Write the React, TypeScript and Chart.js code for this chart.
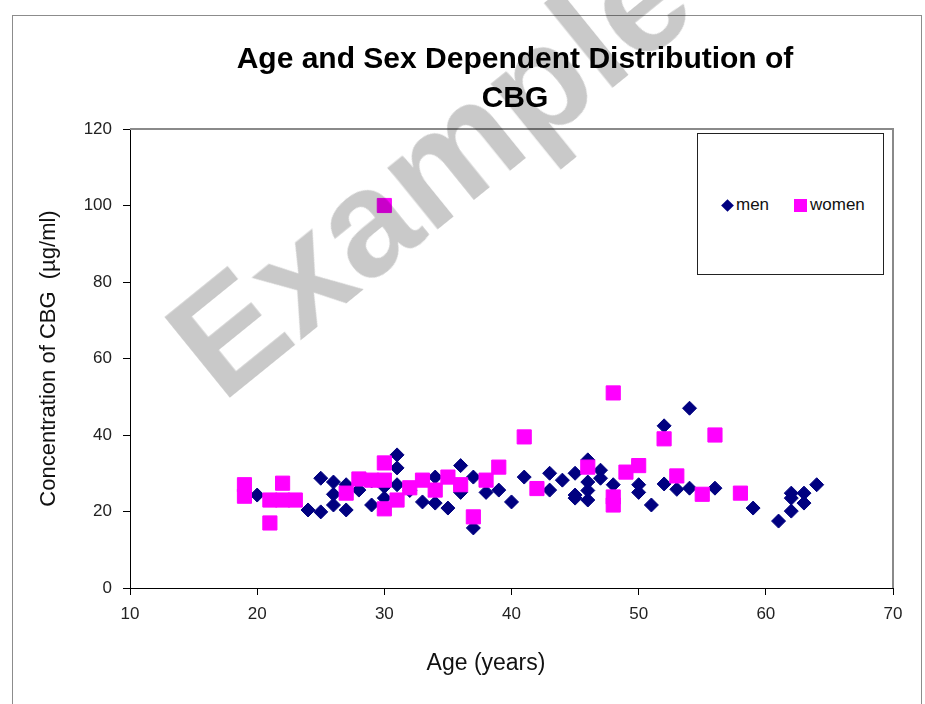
import React, { useEffect, useRef } from 'react';
import { Chart, registerables } from 'chart.js';

Chart.register(...registerables);

const menAges = [20, 24, 25, 25, 26, 26, 26, 27, 27, 28, 29, 29, 30, 30, 31, 31, 31, 32, 33, 34, 34, 35, 36, 36, 37, 37, 38, 39, 40, 41, 43, 43, 44, 45, 45, 45, 46, 46, 46, 46, 47, 47, 48, 50, 50, 51, 52, 52, 53, 54, 54, 56, 59, 61, 62, 62, 62, 63, 63, 64];
const menCBG = [24.3, 20.4, 28.7, 19.9, 27.7, 24.5, 21.7, 27, 20.4, 25.6, 28, 21.7, 23.5, 26.5, 34.8, 31.4, 27, 25.5, 22.5, 29, 22.2, 20.9, 32, 25, 29, 15.7, 25, 25.6, 22.5, 29, 30, 25.6, 28.2, 30, 24.3, 23.5, 33.5, 27.7, 25.5, 23, 30.8, 28.7, 27, 27, 25, 21.7, 42.4, 27.2, 25.8, 47, 26.1, 26.1, 20.9, 17.5, 24.8, 23.5, 20.1, 24.8, 22.2, 27];

const womenAges = [19, 19, 21, 21, 22, 22, 23, 27, 28, 29, 30, 30, 30, 30, 31, 32, 33, 34, 35, 36, 37, 38, 39, 41, 42, 46, 48, 48, 48, 49, 50, 52, 53, 55, 56, 58];
const womenCBG = [27, 24, 23, 17, 27.4, 23, 23, 24.8, 28.5, 28.2, 100, 32.7, 28.2, 20.7, 23, 26.2, 28.2, 25.6, 29, 27, 18.6, 28.2, 31.6, 39.5, 26, 31.6, 51, 23.8, 21.7, 30.3, 32, 39, 29.3, 24.5, 40, 24.8];

const xTickValues = [10, 20, 30, 40, 50, 60, 70];
const yTickValues = [0, 20, 40, 60, 80, 100, 120];

const titleLines = ['Age and Sex Dependent Distribution of', 'CBG'];
const xTitle = 'Age (years)';
const yTitle = 'Concentration of CBG  (\u00b5g/ml)';
const menLabel = 'men';
const womenLabel = 'women';
const watermark = 'Example';

const SANS = "'Liberation Sans', Arial, sans-serif";

const plotBorder = {
  id: 'plotBorder',
  beforeDatasetsDraw(chart: any) {
    const { ctx, chartArea } = chart;
    const { left, top, right, bottom } = chartArea;
    ctx.save();
    ctx.strokeStyle = '#8a8a8a';
    ctx.lineWidth = 2;
    ctx.beginPath();
    ctx.moveTo(left, top);
    ctx.lineTo(right, top);
    ctx.lineTo(right, bottom);
    ctx.stroke();
    ctx.restore();
  },
};

export default function App() {
  const canvasRef = useRef<HTMLCanvasElement | null>(null);

  useEffect(() => {
    if (!canvasRef.current) return;
    const chart = new Chart(canvasRef.current, {
      type: 'scatter',
      data: {
        datasets: [
          {
            label: menLabel,
            data: menAges.map((a, i) => ({ x: a, y: menCBG[i] })),
            pointStyle: 'rectRot',
            pointRadius: 7,
            backgroundColor: '#000080',
            borderColor: '#000080',
            borderWidth: 1,
            order: 1,
          },
          {
            label: womenLabel,
            data: womenAges.map((a, i) => ({ x: a, y: womenCBG[i] })),
            pointStyle: 'rect',
            pointRadius: 10,
            backgroundColor: '#FF00FF',
            borderColor: '#FF00FF',
            borderWidth: 1,
            order: 0,
          },
        ],
      },
      options: {
        animation: false,
        responsive: false,
        maintainAspectRatio: false,
        layout: { padding: { top: 129, right: 32, bottom: 0, left: 0 } },
        plugins: {
          legend: { display: false },
          tooltip: { enabled: false },
          title: { display: false },
        },
        scales: {
          x: {
            type: 'linear',
            min: 10,
            max: 70,
            afterBuildTicks: (s: any) => {
              s.ticks = xTickValues.map((v) => ({ value: v }));
            },
            afterFit: (s: any) => {
              s.height = 116;
            },
            ticks: {
              font: { family: SANS, size: 17 },
              color: '#222',
              padding: 9,
            },
            grid: { drawOnChartArea: false, drawTicks: true, tickLength: 7, color: '#000' },
            border: { color: '#000', width: 1 },
            title: { display: false },
          },
          y: {
            type: 'linear',
            min: 0,
            max: 120,
            afterBuildTicks: (s: any) => {
              s.ticks = yTickValues.map((v) => ({ value: v }));
            },
            afterFit: (s: any) => {
              s.width = 130;
            },
            ticks: {
              font: { family: SANS, size: 17 },
              color: '#222',
              padding: 11,
            },
            grid: { drawOnChartArea: false, drawTicks: true, tickLength: 7, color: '#000' },
            border: { color: '#000', width: 1 },
            title: {
              display: true,
              text: yTitle,
              font: { family: SANS, size: 22 },
              color: '#111',
              padding: { top: 36, bottom: 0 },
            },
          },
        },
      },
      plugins: [plotBorder],
    });
    return () => chart.destroy();
  }, []);

  return (
    <div
      style={{
        position: 'fixed',
        left: 0,
        top: 0,
        width: 925,
        height: 704,
        overflow: 'hidden',
        background: '#fff',
      }}
    >
      <div
        style={{
          position: 'absolute',
          left: 12,
          top: 15,
          width: 908,
          height: 800,
          border: '1px solid #8c8c8c',
        }}
      />
      <canvas ref={canvasRef} width={925} height={704} style={{ position: 'absolute', left: 0, top: 0 }} />
      <div
        style={{
          position: 'absolute',
          left: 215,
          top: 38,
          width: 600,
          textAlign: 'center',
          fontFamily: SANS,
          fontWeight: 'bold',
          fontSize: 30,
          lineHeight: '39px',
          color: '#000',
        }}
      >
        {titleLines.map((t, i) => (
          <div key={i}>{t}</div>
        ))}
      </div>
      <div
        style={{
          position: 'absolute',
          left: 386,
          top: 648,
          width: 200,
          textAlign: 'center',
          fontFamily: SANS,
          fontSize: 23,
          lineHeight: '28px',
          color: '#111',
        }}
      >
        {xTitle}
      </div>
      <div
        style={{
          position: 'absolute',
          left: 697,
          top: 133,
          width: 185,
          height: 140,
          border: '1px solid #222',
          background: '#fff',
          fontFamily: SANS,
          fontSize: 17,
          color: '#111',
        }}
      >
        <div
          style={{
            position: 'absolute',
            left: 25,
            top: 67,
            width: 9,
            height: 9,
            background: '#000080',
            transform: 'rotate(45deg)',
          }}
        />
        <div style={{ position: 'absolute', left: 38, top: 61, lineHeight: '20px' }}>{menLabel}</div>
        <div
          style={{
            position: 'absolute',
            left: 96,
            top: 65,
            width: 13,
            height: 13,
            background: '#FF00FF',
          }}
        />
        <div style={{ position: 'absolute', left: 112, top: 61, lineHeight: '20px' }}>{womenLabel}</div>
      </div>
      <svg
        width={925}
        height={704}
        style={{ position: 'absolute', left: 0, top: 0, pointerEvents: 'none' }}
      >
        <text
          x={222}
          y={404}
          transform="rotate(-39 222 404)"
          fontFamily={SANS}
          fontWeight="bold"
          fontSize={150}
          fill="rgba(0,0,0,0.21)"
        >
          {watermark}
        </text>
      </svg>
    </div>
  );
}
